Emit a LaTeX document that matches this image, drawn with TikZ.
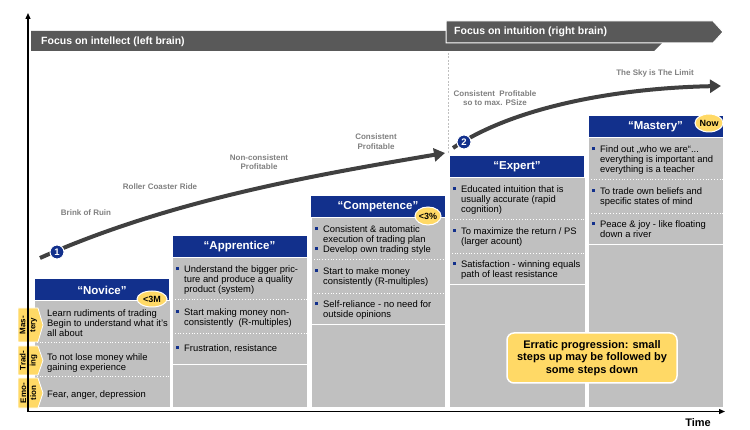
\documentclass[tikz,border=0pt]{standalone}
\usepackage{fontspec}
\setmainfont{Liberation Sans}
\usepackage{xcolor}
\usepackage{tikz}
\usetikzlibrary{arrows.meta,shapes.geometric}
\definecolor{hdrblue}{RGB}{18,48,140}
\definecolor{cellgray}{RGB}{192,192,192}
\definecolor{tabyel}{RGB}{255,217,102}
\definecolor{bandgray}{RGB}{89,89,89}
\definecolor{curgray}{RGB}{64,64,64}
\definecolor{labgray}{RGB}{128,128,128}
\newcommand{\bu}{\textcolor{hdrblue}{\rule[2pt]{3pt}{3pt}}}
\newcommand{\celltxt}[1]{\begin{tabular}[t]{@{}l@{\hspace{5pt}}l@{}}#1\end{tabular}}
\newcommand{\plaintxt}[1]{\begin{tabular}[t]{@{}l@{}}#1\end{tabular}}
\tikzset{
  cell/.style ={fill=cellgray, draw=white, line width=1pt},
  sepl/.style ={draw=white, line width=0.8pt, dotted},
  botl/.style ={draw=white, line width=0.8pt},
  hdr/.style  ={fill=hdrblue, draw=white, line width=1pt, text=white, font=\fontsize{11.5}{12}\selectfont\bfseries, minimum width=135pt, minimum height=22pt, inner sep=0pt},
  rowt/.style ={anchor=north west, inner sep=0pt, font=\fontsize{9.4}{10}\selectfont},
  glab/.style ={text=labgray, font=\fontsize{8}{9.5}\selectfont\bfseries, align=center, inner sep=1pt},
  bandt/.style={text=white, font=\fontsize{10.5}{12}\selectfont\bfseries, inner sep=0pt},
  dashl/.style={draw=black!25, line width=0.8pt, dash pattern=on 2pt off 1.5pt},
  badge/.style={ellipse, fill=tabyel, draw=white, line width=1pt, inner sep=0pt, font=\fontsize{9}{10}\selectfont\bfseries},
  numc/.style ={circle, fill=hdrblue, draw=white, line width=1pt, minimum size=14pt, inner sep=0pt, text=white, font=\fontsize{9.5}{10}\selectfont\bfseries},
  cur/.style  ={draw=curgray, line width=4pt, -{Triangle[length=11pt,width=13pt]}},
  axis/.style ={draw=black, line width=1.2pt, -{Triangle[length=6pt,width=5pt]}},
  tabf/.style ={fill=tabyel, draw=white, line width=0.8pt},
  tabt/.style ={rotate=90, align=center, font=\fontsize{8}{10}\selectfont\bfseries, inner sep=0pt},
  note/.style ={fill=tabyel, draw=white, line width=1.5pt, rounded corners=7pt, minimum width=170pt, minimum height=50pt, align=center, font=\fontsize{11}{12.5}\selectfont\bfseries},
}
\begin{document}
\begin{tikzpicture}[x=1pt,y=-1pt]
  \useasboundingbox (0,0) rectangle (750,430);
  \fill[bandgray] (31,31) -- (654,31) -- (664,41) -- (654,51) -- (31,51) -- cycle;
  \node[bandt,anchor=west] (fleft) at (41,42) {Focus on intellect (left brain)};
  \draw[fill=bandgray,draw=white,line width=1pt] (446,21) -- (713,21) -- (723,32) -- (713,43) -- (446,43) -- cycle;
  \node[bandt,anchor=west] (fright) at (454,32) {Focus on intuition (right brain)};
  \coordinate (dtop) at (448,53);
  \coordinate (dbot) at (448,154);
  \draw[dashl] (dtop) -- (dbot);

  \draw[cell] (34,279) rectangle (170,407);
  \draw[sepl] (34,342) -- (170,342);
  \draw[sepl] (34,376) -- (170,376);
  \node[hdr] (hnov) at (102,290) {“Novice”};
  \node[rowt] (nov1) at (47,309) {\plaintxt{Learn rudiments of trading\\Begin to understand what it's\\all about}};
  \node[rowt] (nov2) at (47,353) {\plaintxt{To not lose money while\\gaining experience}};
  \node[rowt] (nov3) at (47,390) {\plaintxt{Fear, anger, depression}};

  \draw[cell] (172,236) rectangle (307,407);
  \draw[sepl] (172,299) -- (307,299);
  \draw[sepl] (172,333) -- (307,333);
  \draw[botl] (172,364) -- (307,364);
  \node[hdr] (happ) at (239.5,247) {“Apprentice”};
  \node[rowt] (app1) at (176,265) {\celltxt{\bu & Understand the bigger pric-\\ & ture and produce a quality\\ & product (system)}};
  \node[rowt] (app2) at (176,308) {\celltxt{\bu & Start making money non-\\ & consistently\ \ (R-multiples)}};
  \node[rowt] (app3) at (176,344) {\celltxt{\bu & Frustration, resistance}};

  \draw[cell] (311,196) rectangle (445,407);
  \draw[sepl] (311,259) -- (445,259);
  \draw[sepl] (311,293) -- (445,293);
  \draw[botl] (311,324) -- (445,324);
  \node[hdr] (hcom) at (378,207) {“Competence”};
  \node[rowt] (com1) at (315,225) {\celltxt{\bu & Consistent \& automatic\\ & execution of trading plan\\ \bu & Develop own trading style}};
  \node[rowt] (com2) at (315,267) {\celltxt{\bu & Start to make money\\ & consistently (R-multiples)}};
  \node[rowt] (com3) at (315,300) {\celltxt{\bu & Self-reliance - no need for\\ & outside opinions}};

  \draw[cell] (449,156) rectangle (585,407);
  \draw[sepl] (449,219) -- (585,219);
  \draw[sepl] (449,253) -- (585,253);
  \draw[botl] (449,284) -- (585,284);
  \node[hdr] (hexp) at (517,167) {“Expert”};
  \node[rowt] (exp1) at (453,185) {\celltxt{\bu & Educated intuition that is\\ & usually accurate (rapid\\ & cognition)}};
  \node[rowt] (exp2) at (453,227) {\celltxt{\bu & To maximize the return / PS\\ & (larger acount)}};
  \node[rowt] (exp3) at (453,260) {\celltxt{\bu & Satisfaction - winning equals\\ & path of least resistance}};

  \draw[cell] (588,116) rectangle (723,407);
  \draw[sepl] (588,179) -- (723,179);
  \draw[sepl] (588,213) -- (723,213);
  \draw[botl] (588,244) -- (723,244);
  \node[hdr] (hmas) at (655.5,127) {“Mastery”};
  \node[rowt] (mas1) at (592,145) {\celltxt{\bu & Find out „who we are“...\\ & everything is important and\\ & everything is a teacher}};
  \node[rowt] (mas2) at (592,187) {\celltxt{\bu & To trade own beliefs and\\ & specific states of mind}};
  \node[rowt] (mas3) at (592,220) {\celltxt{\bu & Peace \& joy - like floating\\ & down a river}};

  \node[badge,minimum width=30pt,minimum height=16pt] (b3m) at (152,299) {<3M};
  \node[badge,minimum width=26pt,minimum height=18pt] (b3p) at (428,216) {<3\%};
  \node[badge,minimum width=28pt,minimum height=18pt] (bnow) at (709,123) {Now};

  \draw[tabf] (18,308) -- (38,308) -- (43,325) -- (38,342) -- (18,342) -- cycle;
  \node[tabt] (tmas) at (28.5,325) {Mas-\\tery};
  \draw[tabf] (18,346) -- (38,346) -- (43,360.5) -- (38,375) -- (18,375) -- cycle;
  \node[tabt] (ttra) at (28.5,360.5) {Trad-\\ing};
  \draw[tabf] (18,378) -- (38,378) -- (43,393) -- (38,408) -- (18,408) -- cycle;
  \node[tabt] (temo) at (28.5,393) {Emo-\\tion};

  \node[glab] (lruin) at (86,213) {Brink of Ruin};
  \node[glab] (lroll) at (160,187) {Roller Coaster Ride};
  \node[glab] (lnon) at (259,162) {Non-consistent\\Profitable};
  \node[glab] (lcon) at (376,141.5) {Consistent\\Profitable};
  \node[glab] (lmax) at (495,98) {Consistent\ \ Profitable\\so to max. PSize};
  \node[glab] (lsky) at (655,73) {The Sky is The Limit};

  \coordinate (c1s) at (40,258);
  \coordinate (c1e) at (445,153);
  \draw[cur] (c1s) .. controls (170,200) and (315,175) .. (c1e);
  \node[numc] (n1) at (57,252) {1};
  \coordinate (c2s) at (453,148);
  \coordinate (c2e) at (721,86);
  \draw[cur] (c2s) .. controls (515,106) and (620,88) .. (c2e);
  \node[numc] (n2) at (464,142) {2};

  \node[note] (erratic) at (592,358) {Erratic progression: small\\steps up may be followed by\\some steps down};

  \coordinate (orig) at (28,411.5);
  \coordinate (ytop) at (28,13);
  \coordinate (xend) at (725,411.5);
  \draw[axis] (orig) -- (ytop);
  \draw[axis] (orig) -- (xend);
  \node[font=\fontsize{11}{12}\selectfont\bfseries] (time) at (698,423) {Time};
\end{tikzpicture}
\end{document}
